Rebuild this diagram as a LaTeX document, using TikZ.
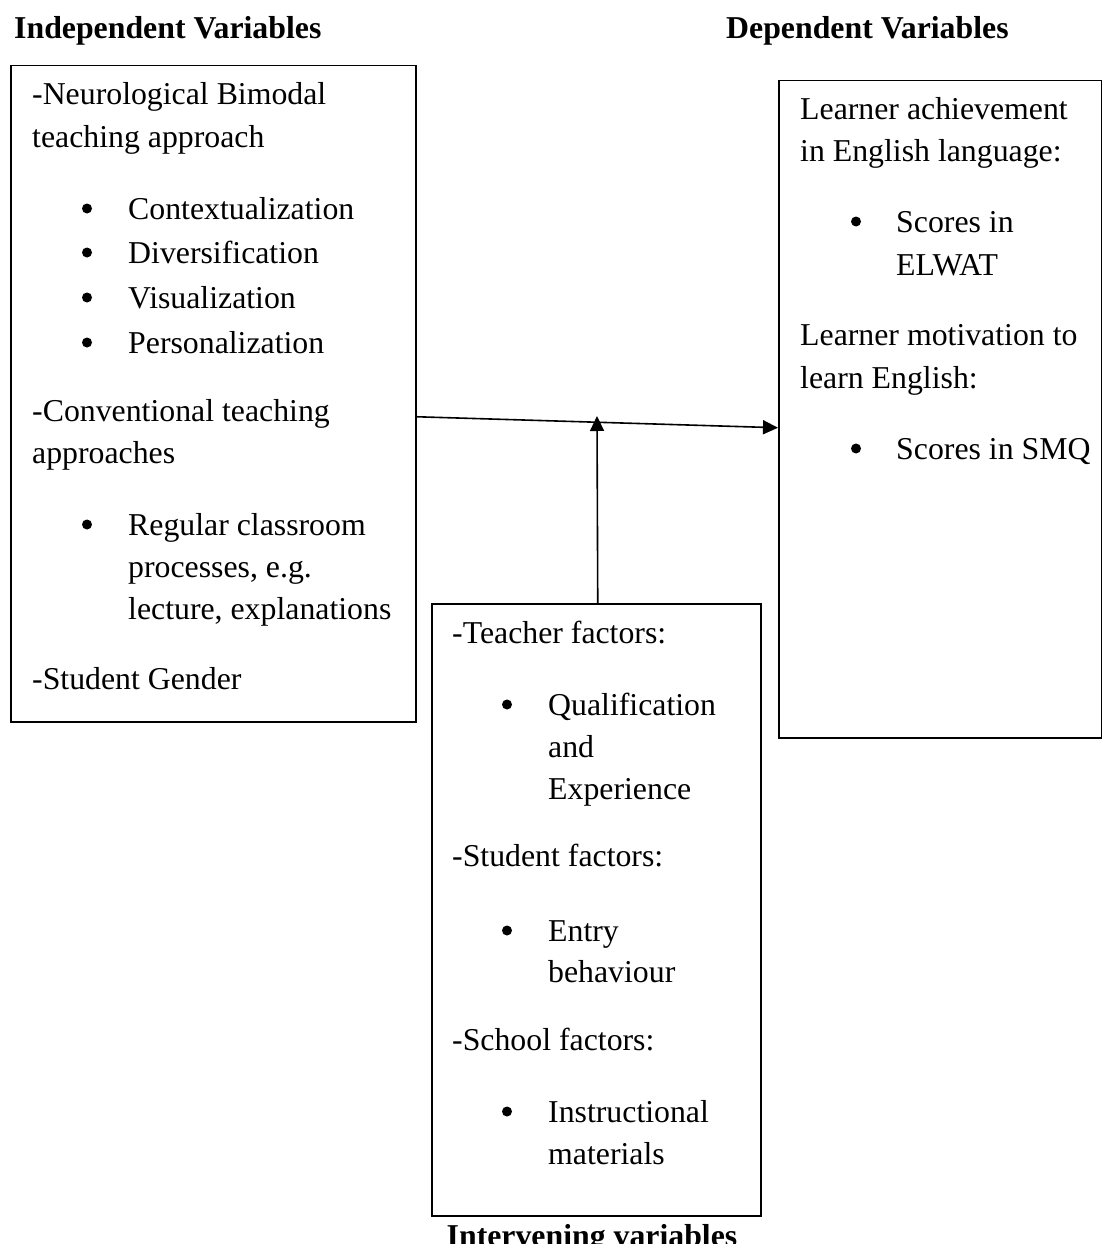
\documentclass[tikz,border=0pt]{standalone}
\usepackage{fontspec}
\setmainfont{Liberation Serif}
\usetikzlibrary{arrows.meta}
\begin{document}
\begin{tikzpicture}[x=1pt,y=-1pt,
  boxshape/.style={draw, line width=1.5pt, inner sep=0pt, anchor=north west},
  txt/.style={anchor=base west, inner sep=0pt, font=\fontsize{31.8pt}{42pt}\selectfont},
  head/.style={anchor=base west, inner sep=0pt, font=\fontsize{31.8pt}{42pt}\selectfont\bfseries},
  bul/.style={fill=black},
  conn/.style={line width=1.6pt, -{Triangle[length=15pt,width=14pt]}}]
\useasboundingbox (0,0) rectangle (1102,1244);
\fill[white] (0,0) rectangle (1102,1244);

% headers
\node[head] (hind) at (14,39) {Independent Variables};
\node[head] (hdep) at (726,39) {Dependent Variables};
\node[head, anchor=base] (hint) at (592,1246) {Intervening variables};

% boxes
\node[boxshape, minimum width=405pt, minimum height=656pt] (lbox) at (10,65) {};
\node[boxshape, minimum width=323pt, minimum height=657pt] (rbox) at (778,80) {};
\node[boxshape, minimum width=329pt, minimum height=612pt] (mbox) at (431,603) {};

% left box text
\node[txt] (l1) at (32,105) {-Neurological Bimodal};
\node[txt] (l2) at (32,147) {teaching approach};
\node[txt] (l3) at (128,219) {Contextualization};
\node[txt] (l4) at (128,263) {Diversification};
\node[txt] (l5) at (128,308) {Visualization};
\node[txt] (l6) at (128,353) {Personalization};
\node[txt] (l7) at (32,421) {-Conventional teaching};
\node[txt] (l8) at (32,463) {approaches};
\node[txt] (l9) at (128,535) {Regular classroom};
\node[txt] (l10) at (128,577) {processes, e.g.};
\node[txt] (l11) at (128,619) {lecture, explanations};
\node[txt] (l12) at (32,689) {-Student Gender};
\foreach \yy in {219,263,308,353,535} \fill[bul] (87,\yy-10.5) circle (5);

% right box text
\node[txt] (r1) at (800,120) {Learner achievement};
\node[txt] (r2) at (800,161) {in English language:};
\node[txt] (r3) at (896,232) {Scores in};
\node[txt] (r4) at (896,275) {ELWAT};
\node[txt] (r5) at (800,345) {Learner motivation to};
\node[txt] (r6) at (800,388) {learn English:};
\node[txt] (r7) at (896,459) {Scores in SMQ};
\foreach \yy in {232,459} \fill[bul] (856,\yy-10.5) circle (5);

% middle box text
\node[txt] (m1) at (452,643) {-Teacher factors:};
\node[txt] (m2) at (548,715) {Qualification};
\node[txt] (m3) at (548,757) {and};
\node[txt] (m4) at (548,799) {Experience};
\node[txt] (m5) at (452,866) {-Student factors:};
\node[txt] (m6) at (548,941) {Entry};
\node[txt] (m7) at (548,982) {behaviour};
\node[txt] (m8) at (452,1050) {-School factors:};
\node[txt] (m9) at (548,1122) {Instructional};
\node[txt] (m10) at (548,1164) {materials};
\foreach \yy in {715,941,1122} \fill[bul] (507,\yy-10.5) circle (5);

% connectors
\coordinate (tip) at (597,416);
\draw[conn] ([yshift=-23pt]lbox.east) -- ([yshift=-18.5pt]rbox.west);
\draw[conn] ([xshift=1.5pt]mbox.north) -- (tip);
\end{tikzpicture}
\end{document}
